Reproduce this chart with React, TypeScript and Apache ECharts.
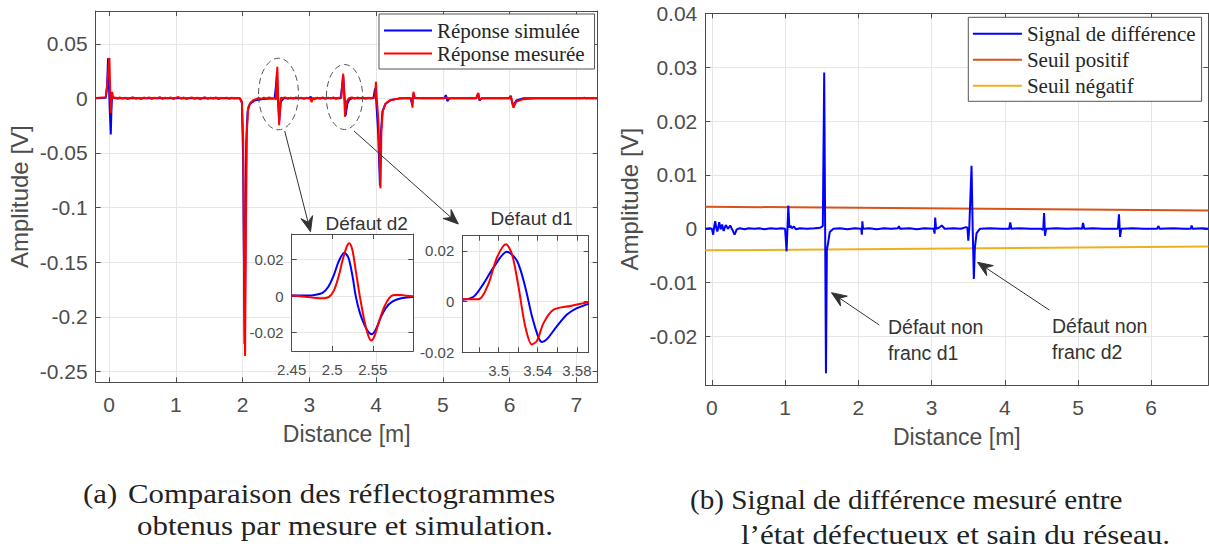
import React, { useEffect, useRef } from "react";
import * as echarts from "echarts";

// ---------- Data ----------
const simulatedResponse: [number, number][] = [
  [-0.2, 0], [-0.05, 0.0005], [-0.03, 0.01], [-0.015, 0.0366], [0.0, 0.01], [0.01, -0.01], [0.026, -0.033],
  [0.035, -0.012], [0.045, 0.002], [0.06, 0.0005], [0.1, 0], [1.96, 0], [1.99, -0.004], [2.01, -0.06],
  [2.03, -0.225], [2.042, -0.15], [2.055, -0.04], [2.075, -0.012], [2.11, -0.005], [2.18, -0.002],
  [2.3, -0.0005], [2.48, 0], [2.5, 0.011], [2.515, 0.0238], [2.529, 0], [2.549, -0.0208], [2.574, -0.003],
  [2.62, 0], [3.0, 0], [3.02, 0.0015], [3.045, -0.001], [3.08, 0], [3.47, 0], [3.495, 0.0135],
  [3.509, 0.0197], [3.53, 0.0], [3.544, -0.0159], [3.57, -0.005], [3.6, -0.001], [3.64, 0], [3.96, 0],
  [3.985, 0.009], [4.0, 0.0], [4.03, -0.03], [4.058, -0.08], [4.075, -0.03], [4.095, -0.012],
  [4.14, -0.005], [4.22, -0.0015], [4.35, 0], [4.52, 0], [4.54, -0.006], [4.556, 0.004], [4.58, 0],
  [5.02, 0], [5.045, 0.003], [5.068, -0.0025], [5.1, 0], [5.5, 0], [5.53, 0.0045], [5.55, -0.002],
  [5.58, 0], [5.99, 0], [6.015, 0.002], [6.052, -0.007], [6.1, -0.002], [6.2, 0], [7.32, 0],
];

const measuredResponse: [number, number][] = [
  [-0.2, 0.0003], [-0.05, 0.001], [-0.03, 0.012], [0.005, 0.037], [0.018, 0.005], [0.026, -0.0137],
  [0.035, 0.0], [0.048, 0.006], [0.06, 0.0], [0.075, 0.0008], [0.1, 0.0006], [0.13, -0.0004],
  [0.16, 0.0009], [0.2, -0.0002], [0.24, 0.0007], [0.28, -0.0006], [0.32, 0.0004], [0.36, 0.001],
  [0.4, -0.0003], [0.44, 0.0005], [0.48, -0.0007], [0.52, 0.0008], [0.56, 0.0001], [0.6, 0.0009],
  [0.64, -0.0005], [0.68, 0.0006], [0.72, 0.0002], [0.76, 0.0011], [0.8, -0.0004], [0.84, 0.0007],
  [0.88, 0.0], [0.92, 0.0009], [0.96, -0.0006], [1.0, 0.0005], [1.04, 0.0012], [1.08, -0.0002],
  [1.12, 0.0008], [1.16, -0.0007], [1.2, 0.0004], [1.24, 0.0009], [1.28, -0.0004], [1.32, 0.0006],
  [1.36, -0.0008], [1.4, 0.0003], [1.44, 0.001], [1.48, -0.0005], [1.52, 0.0007], [1.56, -0.0002],
  [1.6, 0.0008], [1.64, -0.0006], [1.68, 0.0005], [1.72, 0.0001], [1.76, 0.0007], [1.8, -0.0004],
  [1.84, 0.0006], [1.88, -0.0002], [1.92, 0.0004], [1.96, 0.0], [1.99, -0.003], [2.01, -0.04],
  [2.025, -0.18], [2.038, -0.236], [2.05, -0.12], [2.065, -0.03], [2.085, -0.008], [2.12, -0.004],
  [2.16, -0.0016], [2.2, -0.0008], [2.24, 0.0004], [2.28, -0.0005], [2.32, 0.0006], [2.36, -0.0003],
  [2.4, 0.0008], [2.44, -0.0004], [2.48, 0.0002], [2.5, -0.0012], [2.508, 0.011], [2.521, 0.029],
  [2.534, 0.0], [2.548, -0.0245], [2.564, -0.006], [2.576, 0.0006], [2.6, 0.0003], [2.64, 0.0009],
  [2.68, -0.0004], [2.72, 0.0007], [2.76, -0.0003], [2.8, 0.0009], [2.84, 0.0001], [2.88, 0.0007],
  [2.92, -0.0005], [2.96, 0.0006], [3.0, 0.0002], [3.02, -0.001], [3.035, -0.0035], [3.05, 0.0005],
  [3.08, -0.0009], [3.12, 0.0006], [3.16, -0.0002], [3.2, 0.0008], [3.24, -0.0005], [3.28, 0.0007],
  [3.32, 0.0], [3.36, 0.0009], [3.4, -0.0004], [3.44, 0.0006], [3.48, 0.0008], [3.498, 0.0174],
  [3.508, 0.0226], [3.52, 0.006], [3.534, -0.0169], [3.546, -0.0084], [3.56, -0.003], [3.58, -0.0012],
  [3.6, 0.0004], [3.64, 0.0008], [3.68, -0.0003], [3.72, 0.0007], [3.76, 0.0002], [3.8, 0.0009],
  [3.84, -0.0004], [3.88, 0.0006], [3.92, 0.0001], [3.96, 0.0007], [3.985, 0.001], [3.998, 0.0152],
  [4.01, 0.0], [4.035, -0.02], [4.066, -0.0824], [4.08, -0.03], [4.1, -0.012], [4.14, -0.005],
  [4.2, -0.002], [4.3, -0.0005], [4.4, 0], [4.53, 0], [4.545, -0.0085], [4.56, 0.006], [4.58, 0.0005],
  [4.7, 0], [5.0, 0], [5.05, 0.0008], [5.1, 0], [5.5, 0], [5.53, 0.005], [5.55, -0.0015], [5.58, 0],
  [6.0, 0], [6.02, 0.0025], [6.057, -0.0086], [6.1, -0.003], [6.2, -0.0008], [6.4, 0], [7.1, 0],
  [7.12, 0.0008], [7.14, 0], [7.32, 0],
];

const d2Simulated: [number, number][] = [
  [2.45, 0.0003], [2.47, 0.0003], [2.48, 0.0008], [2.488, 0.0018], [2.495, 0.005], [2.502, 0.0115],
  [2.508, 0.019], [2.515, 0.0238], [2.52, 0.021], [2.525, 0.011], [2.529, 0.0], [2.534, -0.009],
  [2.54, -0.016], [2.545, -0.0198], [2.549, -0.0208], [2.554, -0.018], [2.56, -0.0115], [2.566, -0.0065],
  [2.574, -0.003], [2.585, -0.0012], [2.6, -0.0005],
];
const d2Measured: [number, number][] = [
  [2.45, 0.0003], [2.46, 0.0], [2.47, -0.0005], [2.48, -0.001], [2.49, -0.0011], [2.496, -0.0004],
  [2.502, 0.003], [2.508, 0.011], [2.513, 0.02], [2.518, 0.0272], [2.521, 0.029], [2.525, 0.025],
  [2.529, 0.014], [2.534, 0.0], [2.539, -0.012], [2.544, -0.021], [2.548, -0.0243], [2.552, -0.022],
  [2.558, -0.0135], [2.564, -0.006], [2.57, -0.0012], [2.576, 0.0006], [2.585, 0.0007], [2.592, 0.0002],
  [2.6, 0.0],
];
const d1Simulated: [number, number][] = [
  [3.463, 0.0007], [3.4745, 0.0019], [3.4847, 0.0071], [3.4949, 0.0135], [3.5086, 0.0197],
  [3.5188, 0.0161], [3.5272, 0.0058], [3.5341, -0.0058], [3.5408, -0.0142], [3.5443, -0.0159],
  [3.5494, -0.0148], [3.5596, -0.0097], [3.5698, -0.0051], [3.58, -0.0026], [3.592, -0.0009],
];
const d1Measured: [number, number][] = [
  [3.463, 0.001], [3.4745, 0.0009], [3.4813, 0.0012], [3.4898, 0.0071], [3.4984, 0.0174],
  [3.5075, 0.0226], [3.5137, 0.0187], [3.5204, 0.0058], [3.5272, -0.0097], [3.534, -0.0169],
  [3.5392, -0.0155], [3.546, -0.0084], [3.5562, -0.0032], [3.5732, -0.0017], [3.592, -0.0002],
];

const differenceSignal: [number, number][] = [
  [-0.09, 0.0], [-0.03, 0.0001], [0.0, 0.0], [0.018, -0.0011], [0.03, 0.0003], [0.045, 0.0014],
  [0.06, 0.0001], [0.075, -0.0005], [0.1, 0.0012], [0.12, -0.0001], [0.14, 0.0008], [0.16, -0.0004],
  [0.19, 0.0007], [0.22, 0.0], [0.25, 0.0006], [0.28, -0.0002], [0.31, -0.0011], [0.34, -0.0001],
  [0.38, 0.0001], [0.45, -0.0001], [0.5, 0.0001], [0.58, 0.0], [0.65, 0.0001], [0.72, -0.0001],
  [0.8, 0.0001], [0.88, 0.0], [0.95, 0.0001], [1.0, 0.0], [1.02, -0.0042], [1.032, 0.0],
  [1.044, 0.0043], [1.058, 0.0002], [1.075, 0.0006], [1.09, 0.0001], [1.12, 0.0004], [1.15, -0.0001],
  [1.2, 0.0001], [1.3, 0.0], [1.4, 0.0001], [1.48, 0.0002], [1.515, 0.0005], [1.534, 0.029],
  [1.547, 0.0], [1.558, -0.0268], [1.57, -0.004], [1.585, -0.0028], [1.61, -0.0006], [1.66, 0.0],
  [1.75, 0.0001], [1.85, -0.0001], [1.95, 0.0001], [2.04, 0.0], [2.048, -0.0011], [2.055, 0.0014],
  [2.065, 0.0], [2.15, 0.0001], [2.25, -0.0001], [2.35, 0.0001], [2.45, 0.0], [2.54, 0.0001],
  [2.555, 0.0005], [2.57, 0.0], [2.7, 0.0001], [2.8, -0.0001], [2.9, 0.0001], [3.03, 0.0],
  [3.042, -0.0009], [3.05, 0.0021], [3.062, 0.0], [3.1, 0.0002], [3.14, 0.0006], [3.18, 0.0],
  [3.3, 0.0001], [3.4, 0.0], [3.47, 0.0003], [3.49, 0.0002], [3.502, -0.0022], [3.515, 0.0],
  [3.546, 0.0117], [3.562, 0.0], [3.578, -0.0093], [3.592, -0.0035], [3.615, -0.0008], [3.66, 0.0],
  [3.8, 0.0001], [3.95, 0.0], [4.06, 0.0], [4.075, 0.0012], [4.09, 0.0], [4.2, 0.0001], [4.35, 0.0],
  [4.5, 0.0], [4.525, -0.0002], [4.537, 0.0029], [4.55, -0.0013], [4.565, 0.0], [4.7, 0.0001],
  [4.85, 0.0], [5.0, 0.0001], [5.055, 0.0], [5.07, 0.0011], [5.085, 0.0], [5.2, 0.0001], [5.35, 0.0],
  [5.5, 0.0], [5.545, 0.0], [5.56, 0.0027], [5.575, -0.0015], [5.59, 0.0], [5.75, 0.0001], [5.9, 0.0],
  [6.08, 0.0], [6.1, 0.0005], [6.115, 0.0], [6.3, 0.0001], [6.45, 0.0], [6.54, 0.0], [6.552, 0.0006],
  [6.565, 0.0], [6.7, 0.0001], [6.78, 0.0],
];
const positiveThreshold: [number, number][] = [[-0.09, 0.0041], [6.78, 0.0034]];
const negativeThreshold: [number, number][] = [[-0.09, -0.004], [6.78, -0.0033]];

const leftXTicks = [0, 1, 2, 3, 4, 5, 6, 7];
const leftYTicks = [-0.25, -0.2, -0.15, -0.1, -0.05, 0, 0.05];
const rightXTicks = [0, 1, 2, 3, 4, 5, 6];
const rightYTicks = [-0.02, -0.01, 0, 0.01, 0.02, 0.03, 0.04];
const d2XTicks = [2.45, 2.5, 2.55];
const d2YTicks = [-0.02, 0, 0.02];
const d1XTicks = [3.48, 3.5, 3.52, 3.54, 3.56, 3.58];
const d1XLabels = [3.5, 3.54, 3.58];
const d1YTicks = [-0.02, 0, 0.02];

// ---------- Styling ----------
const SANS = "'Liberation Sans', Arial, sans-serif";
const SERIF = "'Liberation Serif', 'Times New Roman', serif";
const AX = "#4d4d4d";
const GRIDC = "#e6e6e6";
const BLUE = "#0000ff";
const RED = "#ff0000";

const fmt = (v: number) => String(Math.round(v * 1e6) / 1e6);

function xAxes(gridIndex: number, min: number, max: number, ticks: number[], labels: number[], fontSize: number, margin: number, z: number, name?: string) {
  const common: any = {
    type: "value", gridIndex, min, max, z,
    axisLine: { show: true, onZero: false, lineStyle: { color: AX, width: 1 } },
    axisTick: { show: true, inside: true, length: 5, customValues: ticks, lineStyle: { color: AX } },
  };
  const bottom: any = {
    ...common, position: "bottom",
    axisLabel: { show: true, customValues: labels, formatter: fmt, color: AX, fontSize, fontFamily: SANS, margin },
    splitLine: { show: true, lineStyle: { color: GRIDC, width: 1 } },
  };
  if (name) {
    Object.assign(bottom, {
      name, nameLocation: "middle", nameGap: 40,
      nameTextStyle: { color: AX, fontSize: 23, fontFamily: SANS },
    });
  }
  const top = { ...common, position: "top", axisLabel: { show: false }, splitLine: { show: false } };
  return [bottom, top];
}

function yAxes(gridIndex: number, min: number, max: number, ticks: number[], fontSize: number, margin: number, z: number, name?: string, nameGap?: number) {
  const common: any = {
    type: "value", gridIndex, min, max, z,
    axisLine: { show: true, onZero: false, lineStyle: { color: AX, width: 1 } },
    axisTick: { show: true, inside: true, length: 5, customValues: ticks, lineStyle: { color: AX } },
  };
  const left: any = {
    ...common, position: "left",
    axisLabel: { show: true, customValues: ticks, formatter: fmt, color: AX, fontSize, fontFamily: SANS, margin },
    splitLine: { show: true, lineStyle: { color: GRIDC, width: 1 } },
  };
  if (name) {
    Object.assign(left, {
      name, nameLocation: "middle", nameGap, nameRotate: 90,
      nameTextStyle: { color: AX, fontSize: 24, fontFamily: SANS },
    });
  }
  const right = { ...common, position: "right", axisLabel: { show: false }, splitLine: { show: false } };
  return [left, right];
}

function lineSeries(name: string, data: [number, number][], color: string, xi: number, yi: number, width: number, z: number, smooth: any = false) {
  return {
    type: "line", name, data, xAxisIndex: xi, yAxisIndex: yi, z,
    showSymbol: false, symbol: "none", smooth,
    lineStyle: { color, width }, itemStyle: { color },
    emphasis: { disabled: true },
  };
}

function arrow(x1: number, y1: number, x2: number, y2: number) {
  const dx = x2 - x1, dy = y2 - y1;
  const len = Math.sqrt(dx * dx + dy * dy);
  const ux = dx / len, uy = dy / len;
  const px = -uy, py = ux;
  const L = 15, W = 6;
  const bx = x2 - ux * L, by = y2 - uy * L;
  const nx = x2 - ux * L * 0.65, ny = y2 - uy * L * 0.65;
  return [
    { type: "line", z: 30, shape: { x1, y1, x2: nx, y2: ny }, style: { stroke: "#333", lineWidth: 1 } },
    {
      type: "polygon", z: 30,
      shape: { points: [[x2, y2], [bx + px * W, by + py * W], [nx, ny], [bx - px * W, by - py * W]] },
      style: { fill: "#333", stroke: "#333", lineWidth: 1 },
    },
  ];
}

function text(t: string, x: number, y: number, size: number, family: string, align: string, vAlign: string, lineHeight?: number, fill = "#333", scaleX = 1) {
  return {
    type: "text", z: 30, x, y, scaleX,
    style: { text: t, fontSize: size, fontFamily: family, fill, align, verticalAlign: vAlign, lineHeight },
  };
}

export default function App() {
  const ref = useRef<HTMLDivElement>(null);

  useEffect(() => {
    if (!ref.current) return;
    const chart = echarts.init(ref.current, null, { renderer: "svg" });

    const option: any = {
      animation: false,
      backgroundColor: "#fff",
      grid: [
        { left: 95.7, top: 11, width: 502, height: 371.3, show: false, z: 0 },
        { left: 705.3, top: 13.3, width: 503, height: 371.7, show: false, z: 0 },
        { left: 291.7, top: 234, width: 121.6, height: 117, show: true, backgroundColor: "#fff", borderWidth: 0, z: 3 },
        { left: 462.3, top: 235.7, width: 126.4, height: 116.6, show: true, backgroundColor: "#fff", borderWidth: 0, z: 3 },
      ],
      xAxis: [
        ...xAxes(0, -0.2, 7.32, leftXTicks, leftXTicks, 21, 12, 0, "Distance [m]"),
        ...xAxes(1, -0.09, 6.78, rightXTicks, rightXTicks, 21, 12, 0, "Distance [m]"),
        ...xAxes(2, 2.45, 2.6, d2XTicks, d2XTicks, 15, 11, 4),
        ...xAxes(3, 3.463, 3.592, d1XTicks, d1XLabels, 15, 11, 4),
      ],
      yAxis: [
        ...yAxes(0, -0.26, 0.08, leftYTicks, 21, 8, 0, "Amplitude [V]", 64),
        ...yAxes(1, -0.029, 0.04, rightYTicks, 21, 8, 0, "Amplitude [V]", 64),
        ...yAxes(2, -0.03, 0.034, d2YTicks, 15, 8, 4),
        ...yAxes(3, -0.02, 0.026, d1YTicks, 15, 8, 4),
      ],
      legend: [
        {
          orient: "vertical", left: 379, top: 14, padding: [5, 10, 4, 5],
          itemWidth: 48, itemHeight: 2, itemGap: 0, icon: "rect", selectedMode: false,
          data: ["Réponse simulée", "Réponse mesurée"],
          textStyle: { fontFamily: SERIF, fontSize: 21, color: "#262626", lineHeight: 23 },
          backgroundColor: "#fff", borderColor: "#555", borderWidth: 1, z: 10,
        },
        {
          orient: "vertical", left: 968.3, top: 17.3, padding: [5, 6, 4, 4.6],
          itemWidth: 49, itemHeight: 2, itemGap: 3, icon: "rect", selectedMode: false,
          data: ["Signal de différence", "Seuil positif", "Seuil négatif"],
          textStyle: { fontFamily: SERIF, fontSize: 21, color: "#262626", lineHeight: 23 },
          backgroundColor: "#fff", borderColor: "#555", borderWidth: 1, z: 10,
        },
      ],
      series: [
        lineSeries("Réponse simulée", simulatedResponse, BLUE, 0, 0, 2, 2),
        lineSeries("Réponse mesurée", measuredResponse, RED, 0, 0, 2, 2),
        lineSeries("d2 simulée", d2Simulated, BLUE, 4, 4, 2, 5, 0.3),
        lineSeries("d2 mesurée", d2Measured, RED, 4, 4, 2, 5, 0.3),
        lineSeries("d1 simulée", d1Simulated, BLUE, 6, 6, 2, 5, 0.3),
        lineSeries("d1 mesurée", d1Measured, RED, 6, 6, 2, 5, 0.3),
        lineSeries("Signal de différence", differenceSignal, BLUE, 2, 2, 2, 3),
        lineSeries("Seuil positif", positiveThreshold, "#d95319", 2, 2, 2, 2),
        lineSeries("Seuil négatif", negativeThreshold, "#edb120", 2, 2, 2, 2),
      ],
      graphic: {
        elements: [
          { type: "ellipse", z: 30, shape: { cx: 278.5, cy: 94, rx: 20, ry: 35.8 }, style: { fill: "none", stroke: "#555", lineWidth: 1, lineDash: [6, 4] } },
          { type: "ellipse", z: 30, shape: { cx: 344.5, cy: 97, rx: 18.2, ry: 32.5 }, style: { fill: "none", stroke: "#555", lineWidth: 1, lineDash: [6, 4] } },
          ...arrow(284.7, 131, 310.5, 231.7),
          ...arrow(354, 131, 458.3, 224),
          ...arrow(879.3, 325, 831.5, 292.7),
          ...arrow(1049.3, 310, 977.5, 262.3),
          text("Défaut d2", 366.7, 223.3, 19, SANS, "center", "middle"),
          text("Défaut d1", 531.7, 218.3, 19, SANS, "center", "middle"),
          text("Défaut non\nfranc d1", 888, 313.7, 19.5, SANS, "left", "top", 26),
          text("Défaut non\nfranc d2", 1052, 313, 19.5, SANS, "left", "top", 26),
          text("(a)", 83, 494, 27, SERIF, "left", "middle", undefined, "#222", 1.14),
          text("Comparaison des réflectogrammes", 128, 494, 27, SERIF, "left", "middle", undefined, "#222", 1.14),
          text("obtenus par mesure et simulation.", 137, 526, 27, SERIF, "left", "middle", undefined, "#222", 1.144),
          text("(b) Signal de différence mesuré entre", 690, 500, 27, SERIF, "left", "middle", undefined, "#222", 1.08),
          text("l’état défectueux et sain du réseau.", 741, 535, 27, SERIF, "left", "middle", undefined, "#222", 1.15),
        ],
      },
    };

    chart.setOption(option);
    return () => chart.dispose();
  }, []);

  return (
    <div
      ref={ref}
      style={{ position: "absolute", left: 0, top: 0, width: 1209, height: 552, background: "#fff" }}
    />
  );
}
